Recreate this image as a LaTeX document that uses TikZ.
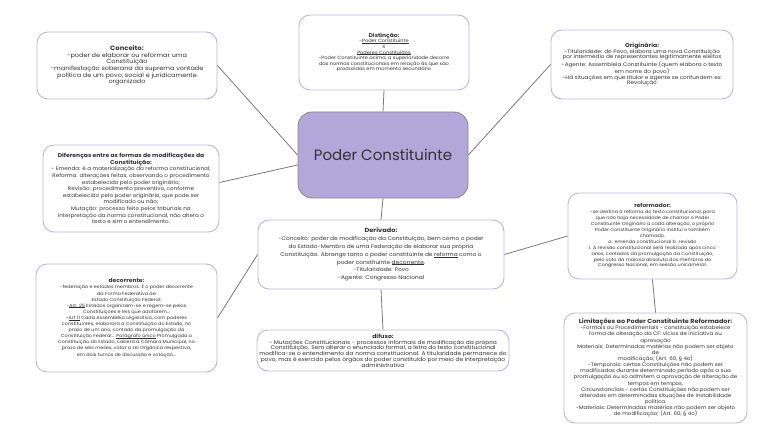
\documentclass[tikz,border=0pt]{standalone}
\usepackage{fontspec}
\setmainfont{Poppins}[FakeStretch=1.1]
\newfontfamily\centralfont{Poppins}
\usetikzlibrary{calc}
\definecolor{boxborder}{HTML}{BDB4E6}
\definecolor{centralfill}{HTML}{B3A6D9}
\definecolor{centralborder}{HTML}{8A8494}
\definecolor{linec}{HTML}{7A7A7A}
\definecolor{textc}{HTML}{333333}
\tikzset{
  topicbox/.style={draw=boxborder, fill=white, rounded corners=11pt, line width=0.9pt,
    align=center, inner sep=0pt, text=textc},
  mainbox/.style={draw=centralborder, fill=centralfill, rounded corners=14pt, line width=0.8pt,
    align=center, inner sep=0pt, text=textc},
  link/.style={draw=linec, line width=0.8pt},
}
\newcommand{\fs}[2]{\fontsize{#1}{#2}\selectfont}
\newcommand{\undl}[1]{\begingroup\setbox0=\hbox{#1}\rlap{\rule[-0.25ex]{\wd0}{0.35pt}}\box0\endgroup}
\begin{document}
\begin{tikzpicture}[x=1pt,y=-1pt]
\useasboundingbox (0,0) rectangle (768,433);

\node[mainbox, minimum width=170pt, minimum height=86pt, font=\centralfont\fs{15}{18}] (central) at (383,155) {Poder Constituinte};

\node[topicbox, minimum width=180pt, minimum height=67pt, font=\fs{5.9}{6.6}] (conc) at (127,65.5)
{{\bfseries\fs{6.2}{7.4}Conceito:}\\
-poder de elaborar ou reformar uma\\
Constituição\\
-manifestação soberana da suprema vontade\\
política de um povo, social e juridicamente\\
organizado};

\node[topicbox, minimum width=170pt, minimum height=75pt, font=\fs{4.6}{5.6}] (dist) at (384,52.5)
{{\bfseries\fs{5.4}{6.4}Distinção:}\\
-\undl{Poder Constituinte}\\
X\\
\undl{Poderes Constituídos}\\
-Poder Constituinte acima, a superioridade decorre\\
das normas constitucionais em relação às que são\\
produzidas em momento secundário};

\node[topicbox, minimum width=182pt, minimum height=69pt, font=\fs{5.15}{5.8}] (orig) at (642,64.5)
{{\bfseries\fs{5.6}{6.8}Originária:}\\
-Titularidade: do Povo, elabora uma nova Constituição\\
por intermédio de representantes legitimamente eleitos\\
-Agente: Assembleia Constituinte (quem elabora o texto\\
em nome do povo)\\
-Há situações em que titular e agente se confundem ex:\\
Revolução};

\node[topicbox, minimum width=176pt, minimum height=87pt, font=\fs{5.1}{6.6}] (difer) at (131,188.5)
{{\bfseries\fs{5.5}{6.4}Diferenças entre as formas de modificações da}\\
{\bfseries\fs{5.5}{6.4}Constituição:}\\
- Emenda: é a materialização da reforma constitucional;\\
Reforma: alterações feitas, observando o procedimento\\
estabelecido pelo poder originário;\\
Revisão: procedimento preventivo, conforme\\
estabelecido pelo poder originário, que pode ser\\
modificado ou não;\\
Mutação: processo feito pelos tribunais na\\
interpretação da norma constitucional, não altera o\\
texto e sim o entendimento.};

\node[topicbox, minimum width=246pt, minimum height=69pt, font=\fs{5.3}{7.9}] (deriv) at (381,254.5)
{{\bfseries\fs{6.0}{7.9}Derivado:}\\
-Conceito: poder de modificação da Constituição, bem como o poder\\
do Estado-Membro de uma Federação de elaborar sua própria\\
Constituição. Abrange tanto o poder constituinte de \undl{reforma} como o\\
poder constituinte \undl{decorrente}.\\
-Titularidade: Povo\\
-Agente: Congresso Nacional};

\node[topicbox, minimum width=169pt, minimum height=86pt, font=\fs{4.45}{5.9}] (reform) at (652.5,236)
{{\bfseries\fs{5.3}{6.6}reformador:}\\
-se destina à reforma do texto constitucional, para\\
que não haja necessidade de chamar o Poder\\
Constituinte Originário a cada alteração, o próprio\\
Poder Constituinte Originário institui o também\\
chamado.\\
a. emenda constitucional b. revisão\\
i. A revisão constitucional será realizada após cinco\\
anos, contados da promulgação da Constituição,\\
pelo voto da maioria absoluta dos membros do\\
Congresso Nacional, em sessão unicameral.};

\node[topicbox, minimum width=181pt, minimum height=108pt, font=\fs{4.45}{6.1}] (decor) at (126.5,318)
{{\bfseries\fs{5.4}{6.6}decorrente:}\\
-federação e estados membros. É o poder decorrente\\
da Forma Federativa de\\
Estado Constituição Federal:\\
-\undl{Art. 25} Estados organizam-se e regem-se pelas\\
Constituições e leis que adotarem...\\
-\undl{Art 11} Cada Assembléia Legislativa, com poderes\\
constituintes, elaborará a Constituição do Estado, no\\
prazo de um ano, contado da promulgação da\\
Constituição Federal... \undl{Parágrafo único} Promulgada a\\
Constituição do Estado, caberá à Câmara Municipal, no\\
prazo de seis meses, votar a Lei Orgânica respectiva,\\
em dois turnos de discussão e votação...};

\node[topicbox, minimum width=252pt, minimum height=41pt, font=\fs{5.35}{5.8}] (difuso) at (383,350.5)
{{\bfseries\fs{5.6}{6.4}difuso:}\\
- Mutações Constitucionais - processos informais de modificação da própria\\
Constituição. Sem alterar o enunciado formal, a letra do texto constitucional\\
modifica-se o entendimento da norma constitucional. A titularidade permanece do\\
povo, mas é exercido pelos órgãos do poder constituído por meio de interpretação\\
administrativa};

\node[topicbox, minimum width=183pt, minimum height=110pt, font=\fs{5.0}{6.15}] (limit) at (655.5,368)
{{\bfseries\fs{5.9}{6.8}Limitações ao Poder Constituinte Reformador:}\\
-Formais ou Procedimentais - constituição estabelece\\
forma de alteração da CF: vícios de iniciativa ou\\
aprovação\\
Materiais: Determinadas matérias não podem ser objeto\\
de\\
modificação; (Art. 60, § 4o)\\
-Temporais: certas Constituições não podem ser\\
modificadas durante determinado período após a sua\\
promulgação ou só admitem a aprovação de alteração de\\
tempos em tempos.\\
Circunstanciais - certas Constituições não podem ser\\
alteradas em determinadas situações de instabilidade\\
política.\\
-Materiais: Determinadas matérias não podem ser objeto\\
de modificação; (Art. 60, § 4o)};

\draw[link] (conc.east) -- (central.west);
\draw[link] ([yshift=6pt]difer.east) -- ([yshift=-10pt]central.west);
\draw[link] (orig.west) -- (central.east);
\draw[link] (dist.south) -- (central.north);
\draw[link] (central.south) -- (deriv.north);
\draw[link] (deriv.south) -- (difuso.north);
\draw[link] (decor.east) -- (deriv.west);
\draw[link] (deriv.east) -- (reform.west);
\draw[link] (reform.south) -- (limit.north);
\end{tikzpicture}
\end{document}
